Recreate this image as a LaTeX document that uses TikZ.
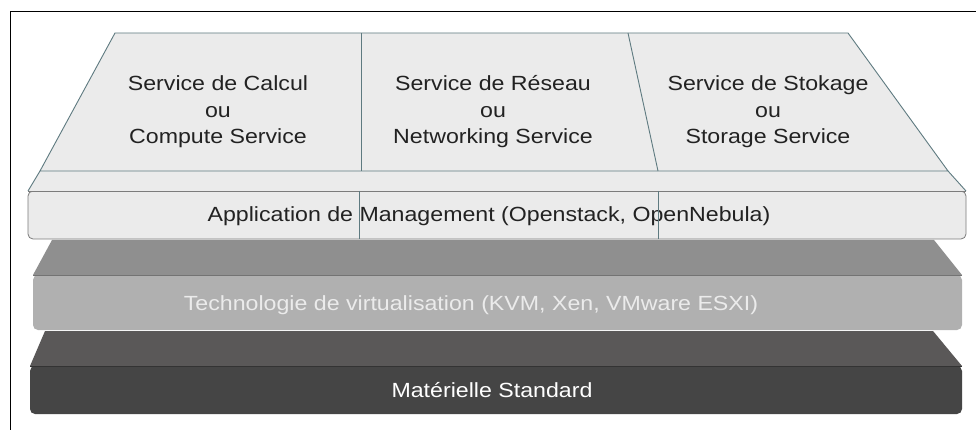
\documentclass[tikz,border=0pt]{standalone}
\usepackage{fontspec}
\setmainfont{Liberation Sans}[FakeStretch=1.13]
\begin{document}
\begin{tikzpicture}[x=1pt,y=-1pt,
  lbl/.style={font=\fontsize{20.5}{26.5}\selectfont, align=center, inner sep=0pt},
  edge/.style={draw=edgeteal, line width=0.9pt},
  ]
\definecolor{edgeteal}{HTML}{5E7A80}
\definecolor{panel}{HTML}{EBEBEB}
\definecolor{mgmtedge}{HTML}{7C7C7C}
\definecolor{virttop}{HTML}{8F8F8F}
\definecolor{virtfront}{HTML}{B0B0B0}
\definecolor{hwtop}{HTML}{5A5858}
\definecolor{hwfront}{HTML}{454545}
\definecolor{ink}{HTML}{222222}

\useasboundingbox (0,0) rectangle (976,430);
\fill[white] (0,0) rectangle (976,430);

% frame (top and left rules)
\draw[black, line width=1pt] (10,430) -- (10,12) -- (976,12);

% hardware layer: top face and front
\fill[hwtop] (45,331) -- (933,331) -- (962,366) -- (30,366) -- cycle;
\fill[hwfront, rounded corners=5pt] (30,366) rectangle (962,414);
\draw[black!80, line width=0.6pt] (30,366) -- (962,366);
\node[lbl, text=white] (hw) at (492,390) {Matérielle Standard};

% virtualisation layer: top face and front
\fill[virttop] (52,240) -- (934,240) -- (962,275) -- (33,275) -- cycle;
\fill[virtfront, rounded corners=5pt] (33,275) rectangle (962,330);
\draw[black!55, line width=0.6pt] (33,275) -- (962,275);
\node[lbl, text=white!92!black] (virt) at (471,305) {Technologie de virtualisation (KVM, Xen, VMware ESXI)};

% management layer front
\draw[mgmtedge, fill=panel, line width=0.8pt, rounded corners=5pt] (28,191) rectangle (966,239);
\node[lbl, text=ink] (mgmt) at (489,216) {Application de Management (Openstack, OpenNebula)};

% service deck: band on top of the management layer
\fill[panel] (40,171) -- (948,171) -- (966,191) -- (28,191) -- cycle;
\draw[edge] (40,171) -- (28,191);
\draw[edge] (948,171) -- (966,191);
\draw[mgmtedge, line width=0.8pt] (28,191) -- (966,191);

% service deck: trapezoid
\draw[edge, fill=panel] (115,33) -- (848,33) -- (948,171) -- (40,171) -- cycle;
\draw[edge] (361,33) -- (361,171);
\draw[edge] (628,33) -- (658,171);

% dividers carried into the management layer
\draw[edge, line width=0.8pt] (359,191) -- (359,239);
\draw[edge, line width=0.8pt] (658,191) -- (658,239);

% service labels
\node[lbl, text=ink] (calc) at (218,112) {Service de Calcul\\ou\\Compute Service};
\node[lbl, text=ink] (net) at (493,112) {Service de Réseau\\ou\\Networking Service};
\node[lbl, text=ink] (store) at (768,112) {Service de Stokage\\ou\\Storage Service};
\end{tikzpicture}
\end{document}
